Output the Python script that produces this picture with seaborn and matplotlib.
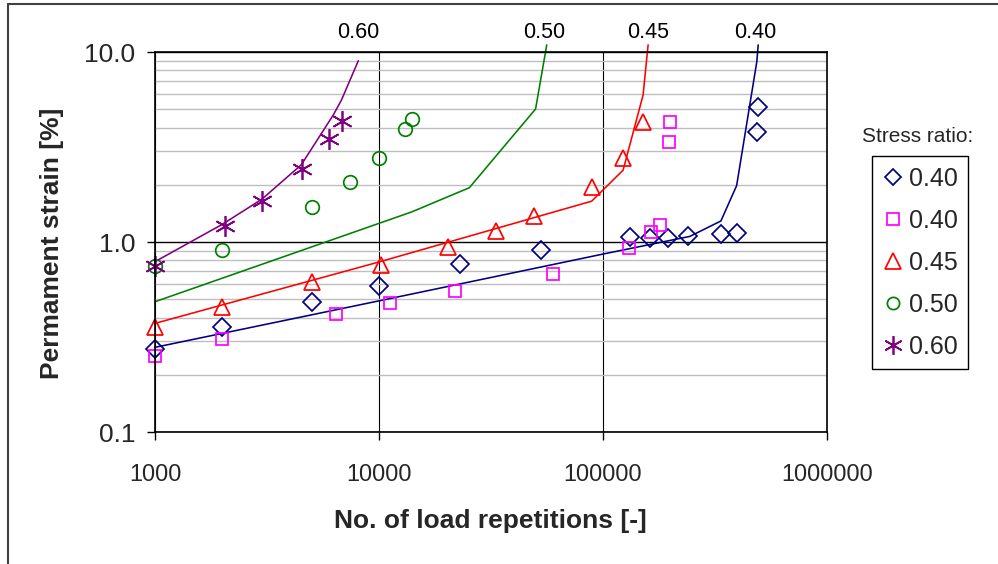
import numpy as np
import pandas as pd
import matplotlib
matplotlib.use("Agg")
import matplotlib.pyplot as plt
import matplotlib.transforms as mtransforms
from matplotlib.lines import Line2D
from matplotlib.ticker import FixedLocator, FixedFormatter, LogLocator, NullFormatter
import seaborn as sns

# ---------------- data ----------------
# measured points
N_040a = [1000, 2000, 5000, 10000, 23000, 53000, 132000, 162000, 195000, 240000, 336000, 396000, 487000, 492000]
eps_040a = [0.275, 0.357, 0.483, 0.586, 0.766, 0.908, 1.058, 1.054, 1.045, 1.075, 1.10, 1.11, 3.81, 5.15]

N_040b = [1000, 2000, 6400, 11200, 21800, 60000, 131000, 163000, 180000, 197000, 200000]
eps_040b = [0.251, 0.309, 0.417, 0.476, 0.555, 0.679, 0.927, 1.125, 1.229, 3.37, 4.29]

N_045 = [1000, 2000, 5000, 10200, 20400, 33200, 49200, 89000, 122500, 150400]
eps_045 = [0.358, 0.457, 0.618, 0.757, 0.945, 1.147, 1.375, 1.955, 2.78, 4.29]

N_050 = [1000, 2000, 5000, 7400, 10000, 13000, 14100]
eps_050 = [0.75, 0.908, 1.53, 2.08, 2.76, 3.92, 4.46]

N_060 = [1000, 2050, 3000, 4550, 6000, 6850]
eps_060 = [0.748, 1.218, 1.65, 2.41, 3.48, 4.33]

# model curves
fitN_040 = [1000, 10000, 100000, 244000, 336000, 395000, 486000, 493000]
fitE_040 = [0.279, 0.49, 0.864, 1.07, 1.29, 1.98, 8.89, 10.9]

fitN_045 = [1000, 10000, 89000, 123000, 151000, 159000]
fitE_045 = [0.373, 0.785, 1.64, 2.39, 5.94, 10.9]

fitN_050 = [1000, 14000, 25300, 50000, 56100]
fitE_050 = [0.485, 1.44, 1.93, 5.01, 10.9]

fitN_060 = [1000, 2000, 3000, 4500, 6250, 6800, 8086]
fitE_060 = [0.788, 1.24, 1.68, 2.55, 4.66, 5.59, 9.0]

legend_labels = ["0.40", "0.40", "0.45", "0.50", "0.60"]
curve_labels = ["0.60", "0.50", "0.45", "0.40"]
curve_label_N = [8070, 54500, 158300, 477000]

x_ticks = [1000, 10000, 100000, 1000000]
x_ticklabels = ["1000", "10000", "100000", "1000000"]
y_ticks = [0.1, 1, 10]
y_ticklabels = ["0.1", "1.0", "10.0"]

# ---------------- style ----------------
sns.set_theme(style="white")
plt.rcParams["font.family"] = ["Liberation Sans", "DejaVu Sans"]

NAVY, MAG, RED, GREEN, PURP = "#000080", "#FF00FF", "#FF0000", "#008000", "#800080"

W, H = 998, 564
fig = plt.figure(figsize=(W / 100, H / 100), dpi=100)
fig.patch.set_facecolor("white")
ax = fig.add_axes([155 / W, 1 - 432 / H, 672 / W, 380 / H])
ax.set_facecolor("white")
ax.set_xscale("log")
ax.set_yscale("log")
ax.set_xlim(1000, 1e6)
ax.set_ylim(0.1, 10)

# grid
ax.yaxis.set_minor_locator(LogLocator(base=10, subs=np.arange(2, 10)))
ax.yaxis.set_minor_formatter(NullFormatter())
ax.xaxis.set_minor_locator(FixedLocator([]))
ax.grid(which="minor", axis="y", color="#BEBEBE", lw=1.0)
ax.grid(which="major", axis="y", color="black", lw=1.0)
ax.grid(which="major", axis="x", color="black", lw=0.8)
ax.set_axisbelow(True)

# model lines
for fx, fy, c in [(fitN_040, fitE_040, NAVY), (fitN_045, fitE_045, RED),
                  (fitN_050, fitE_050, GREEN), (fitN_060, fitE_060, PURP)]:
    sns.lineplot(x=fx, y=fy, ax=ax, color=c, lw=1.15, sort=False, estimator=None)

# measured markers (marker, size in plot, size in legend)
series = [
    (N_040a, eps_040a, NAVY, "D", 9.0, 7.8),
    (N_040b, eps_040b, MAG, "s", 9.3, 9.0),
    (N_045, eps_045, RED, "^", 12, 11),
    (N_050, eps_050, GREEN, "o", 9.8, 8.8),
    (N_060, eps_060, PURP, (6, 2, 0), 15, 13.5),
]
for nx, ey, c, m, ms, _ in series:
    sns.lineplot(x=nx, y=ey, ax=ax, sort=False, estimator=None, linestyle="",
                 marker=m, markersize=ms, markerfacecolor="none",
                 markeredgecolor=c, markeredgewidth=1.25, color=c)

for ln in ax.lines:
    ln.set_clip_on(False)

# ticks
ax.xaxis.set_major_locator(FixedLocator(x_ticks))
ax.xaxis.set_major_formatter(FixedFormatter(x_ticklabels))
ax.yaxis.set_major_locator(FixedLocator(y_ticks))
ax.yaxis.set_major_formatter(FixedFormatter(y_ticklabels))
ax.tick_params(axis="x", which="major", direction="out", length=6, width=1,
               color="black", pad=16, labelsize=16.8, bottom=True)
ax.tick_params(axis="y", which="major", direction="out", length=6, width=1,
               color="black", pad=8, labelsize=19, left=True)
ax.tick_params(which="minor", length=0)
for s in ax.spines.values():
    s.set_color("black")
    s.set_linewidth(1.2)
    s.set_visible(True)

# axis labels
ax.set_xlabel("No. of load repetitions [-]", fontsize=19, fontweight="bold")
ax.set_ylabel("Permament strain [%]", fontsize=19, fontweight="bold")
ax.xaxis.set_label_coords((490 - 155) / 672, (432 - 521) / 380)
ax.xaxis.label.set_va("center")
ax.yaxis.set_label_coords((52 - 155) / 672, (432 - 243) / 380)
ax.yaxis.label.set_va("center")
ax.yaxis.label.set_ha("center")

# curve labels on top
trans = mtransforms.blended_transform_factory(ax.transData, ax.transAxes)
for lab, nx in zip(curve_labels, curve_label_N):
    ax.text(nx, (432 - 32) / 380, lab, transform=trans, ha="center", va="center",
            fontsize=15.5, color="black", clip_on=False)

# legend
handles = []
for (nx, ey, c, m, ms, lms) in series:
    handles.append(Line2D([], [], linestyle="none", marker=m, markersize=lms,
                          markerfacecolor="none", markeredgecolor=c, markeredgewidth=1.25))
leg = fig.legend(handles, legend_labels, loc="upper left",
                 bbox_to_anchor=(872 / W, 1 - 156 / H), bbox_transform=fig.transFigure,
                 borderaxespad=0, frameon=True, fancybox=False, shadow=False,
                 fontsize=18, borderpad=0.42, labelspacing=0.72, handlelength=0.8,
                 handletextpad=0.25)
leg.get_frame().set_edgecolor("black")
leg.get_frame().set_linewidth(1.0)
leg.get_frame().set_facecolor("white")
leg.get_frame().set_alpha(1)

fig.text(918 / W, 1 - 137 / H, "Stress ratio:", ha="center", va="center", fontsize=15)

# chart border
fig.add_artist(Line2D([8 / W, 8 / W], [0, 1 - 4 / H], transform=fig.transFigure,
                      color="#404040", lw=1.5))
fig.add_artist(Line2D([8 / W, 1], [1 - 4 / H, 1 - 4 / H], transform=fig.transFigure,
                      color="#404040", lw=1.5))

fig.savefig("out.png", dpi=100)
